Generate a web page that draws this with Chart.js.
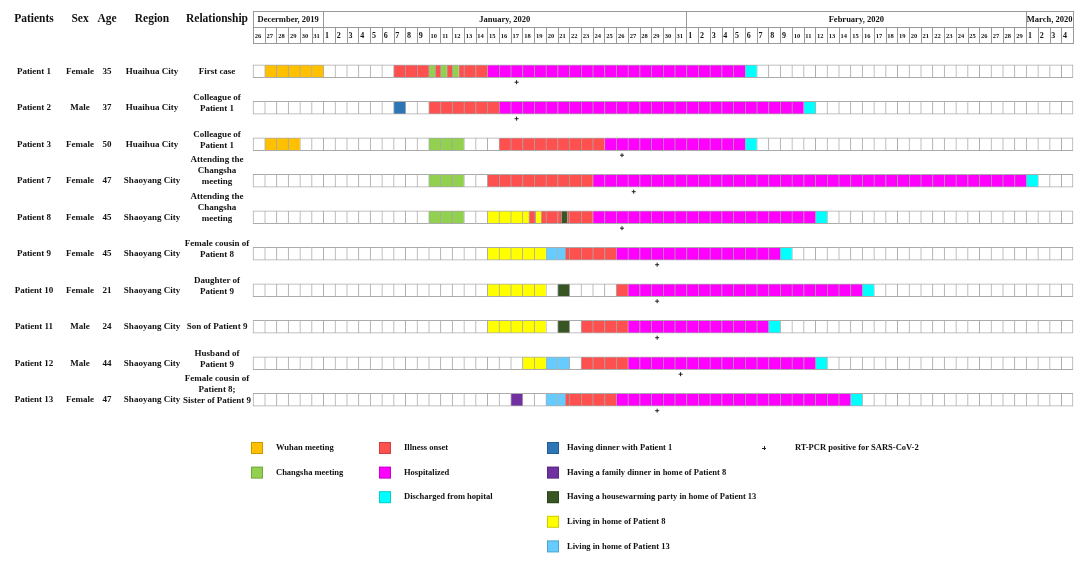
<!DOCTYPE html>
<html>
<head>
<meta charset="utf-8">
<title>Patient timeline</title>
<script src="https://cdn.jsdelivr.net/npm/chart.js@4.4.1/dist/chart.umd.min.js"></script>
<style>
    html, body { margin: 0; padding: 0; background: #ffffff; }
    #wrap { position: relative; width: 1084px; height: 562px; }
</style>
</head>
<body>
<div id="wrap"><canvas id="timelineChart"></canvas></div>
<script>
// ---- data ----
// day index on the x axis: 0 = 26 Dec 2019, 6 = 1 Jan, 37 = 1 Feb, 66 = 1 Mar 2020
const dayLabels = [
    '26', '27', '28', '29', '30', '31',
    '1', '2', '3', '4', '5', '6', '7', '8', '9', '10', '11', '12', '13', '14', '15', '16',
    '17', '18', '19', '20', '21', '22', '23', '24', '25', '26', '27', '28', '29', '30', '31',
    '1', '2', '3', '4', '5', '6', '7', '8', '9', '10', '11', '12', '13', '14', '15', '16',
    '17', '18', '19', '20', '21', '22', '23', '24', '25', '26', '27', '28', '29',
    '1', '2', '3', '4'
];
const monthNames = ['Decermber, 2019', 'January, 2020', 'February, 2020', 'March, 2020'];
const monthDayCounts = [6, 31, 29, 4];

const patientNames = ['Patient 1', 'Patient 2', 'Patient 3', 'Patient 7', 'Patient 8',
    'Patient 9', 'Patient 10', 'Patient 11', 'Patient 12', 'Patient 13'];
const patientSex = ['Female', 'Male', 'Female', 'Female', 'Female',
    'Female', 'Female', 'Male', 'Male', 'Female'];
const patientAge = [35, 37, 50, 47, 45, 45, 21, 24, 44, 47];
const patientRegion = ['Huaihua City', 'Huaihua City', 'Huaihua City', 'Shaoyang City', 'Shaoyang City',
    'Shaoyang City', 'Shaoyang City', 'Shaoyang City', 'Shaoyang City', 'Shaoyang City'];
const patientRelationship = [
    ['First case'],
    ['Colleague of', 'Patient 1'],
    ['Colleague of', 'Patient 1'],
    ['Attending the', 'Changsha', 'meeting'],
    ['Attending the', 'Changsha', 'meeting'],
    ['Female cousin of', 'Patient 8'],
    ['Daughter of', 'Patient 9'],
    ['Son of Patient 9'],
    ['Husband of', 'Patient 9'],
    ['Female cousin of', 'Patient 8;', 'Sister of Patient 9']
];

// [status, from day, to day) on the day index
const spansPatient1 = [
    ['wuhan', 1, 6], ['onset', 12, 15],
    ['changsha', 15, 15.55], ['onset', 15.55, 16],
    ['changsha', 16, 16.55], ['onset', 16.55, 17],
    ['changsha', 17, 17.55], ['onset', 17.55, 20],
    ['hospital', 20, 42], ['discharged', 42, 43]
];
const spansPatient2 = [['dinnerP1', 12, 13], ['onset', 15, 21], ['hospital', 21, 47], ['discharged', 47, 48]];
const spansPatient3 = [['wuhan', 1, 4], ['changsha', 15, 18], ['onset', 21, 30], ['hospital', 30, 42], ['discharged', 42, 43]];
const spansPatient7 = [['changsha', 15, 18], ['onset', 20, 29], ['hospital', 29, 66], ['discharged', 66, 67]];
const spansPatient8 = [
    ['changsha', 15, 18], ['livingP8', 20, 23.55], ['onset', 23.55, 24.1], ['livingP8', 24.1, 24.6],
    ['onset', 24.6, 26.3], ['housewarming', 26.3, 26.8], ['onset', 26.8, 29],
    ['hospital', 29, 48], ['discharged', 48, 49]
];
const spansPatient9 = [['livingP8', 20, 25], ['livingP13', 25, 26.65], ['onset', 26.65, 31], ['hospital', 31, 45], ['discharged', 45, 46]];
const spansPatient10 = [['livingP8', 20, 25], ['housewarming', 26, 27], ['onset', 31, 32], ['hospital', 32, 52], ['discharged', 52, 53]];
const spansPatient11 = [['livingP8', 20, 25], ['housewarming', 26, 27], ['onset', 28, 32], ['hospital', 32, 44], ['discharged', 44, 45]];
const spansPatient12 = [['livingP8', 23, 25], ['livingP13', 25, 27], ['onset', 28, 32], ['hospital', 32, 48], ['discharged', 48, 49]];
const spansPatient13 = [['familyDinner', 22, 23], ['livingP13', 25, 26.65], ['onset', 26.65, 31], ['hospital', 31, 51], ['discharged', 51, 52]];
const patientSpans = [spansPatient1, spansPatient2, spansPatient3, spansPatient7, spansPatient8,
    spansPatient9, spansPatient10, spansPatient11, spansPatient12, spansPatient13];

// day of the RT-PCR positive result, per patient
const pcrPositiveDay = [22, 22, 31, 32, 31, 34, 34, 34, 36, 34];

const statusKeys = ['wuhan', 'changsha', 'onset', 'hospital', 'discharged',
    'dinnerP1', 'familyDinner', 'housewarming', 'livingP8', 'livingP13'];
const statusLabels = ['Wuhan meeting', 'Changsha meeting', 'Illness onset', 'Hospitalized',
    'Discharged from hopital', 'Having dinner with Patient 1', 'Having a family dinner in home of Patient 8',
    'Having a housewarming party in home of Patient 13', 'Living in home of Patient 8', 'Living in home of Patient 13'];
const pcrLabel = 'RT-PCR positive for SARS-CoV-2';

// ---- styles and layout ----
const statusColors = {
    wuhan: '#ffc000', changsha: '#92d050', onset: '#ff5050', hospital: '#ff00ff', discharged: '#00ffff',
    dinnerP1: '#2e75b6', familyDinner: '#7030a0', housewarming: '#375623', livingP8: '#ffff00', livingP13: '#66ccff'
};
const legendColumns = [
    ['wuhan', 'changsha'],
    ['onset', 'hospital', 'discharged'],
    ['dinnerP1', 'familyDinner', 'housewarming', 'livingP8', 'livingP13']
];
const legendLayout = { squareX: [251, 379, 547], textX: [276, 404, 567], pcrX: 764, pcrTextX: 795, top: 448, gap: 24.6, size: 12 };
const columnX = { patients: 34, sex: 80, age: 107, region: 152, relationship: 217 };
const headerY = { columns: 19, monthTop: 11, dayTop: 27, dayBottom: 43 };
const pcrMarkOffset = 0.3;
const serif = '"Liberation Serif", "Times New Roman", serif';
const cellBorder = 'rgba(0, 0, 0, 0.33)';

// split a span into pieces that never cross a day boundary, so each day keeps its own frame
function splitIntoCells(from, to) {
    const cells = [];
    let a = from;
    while (a < to - 1e-9) {
        const b = Math.min(to, Math.floor(a + 1e-9) + 1);
        cells.push([a, b]);
        a = b;
    }
    return cells;
}

function cellBorderWidth(context) {
    const raw = context.raw;
    const right = raw && raw.x[1] >= dayLabels.length ? 1 : 0;
    return { left: 1, top: 1, bottom: 1, right: right };
}

const barDefaults = {
    type: 'bar',
    grouped: false,
    barThickness: 13,
    maxBarThickness: 13,
    borderSkipped: false,
    borderWidth: cellBorderWidth,
    borderColor: cellBorder,
    clip: false
};

const datasets = [];

datasets.push({
    type: 'scatter',
    label: pcrLabel,
    data: pcrPositiveDay.map((d, i) => ({ x: d + 0.5, y: i + pcrMarkOffset })),
    pointStyle: 'cross',
    radius: 2,
    borderColor: '#222222',
    borderWidth: 1,
    order: 0
});

statusKeys.forEach((key, k) => {
    const data = [];
    patientSpans.forEach((spans, p) => {
        spans.filter(s => s[0] === key).forEach(s => {
            splitIntoCells(s[1], s[2]).forEach(cell => data.push({ x: cell, y: p }));
        });
    });
    datasets.push(Object.assign({}, barDefaults, {
        label: statusLabels[k],
        data: data,
        backgroundColor: statusColors[key],
        order: 1
    }));
});

// empty frames for days with nothing recorded
const emptyCells = [];
patientSpans.forEach((spans, p) => {
    dayLabels.forEach((lbl, d) => {
        const covered = spans.some(s => s[1] < d + 1 && s[2] > d);
        if (!covered) emptyCells.push({ x: [d, d + 1], y: p });
    });
});
datasets.push(Object.assign({}, barDefaults, {
    label: 'No event',
    data: emptyCells,
    backgroundColor: '#ffffff',
    order: 2
}));

const sheetPlugin = {
    id: 'sheet',
    afterDraw(chart) {
        const { ctx, scales: { x, y } } = chart;
        const px = v => Math.round(x.getPixelForValue(v)) + 0.5;
        ctx.save();
        ctx.fillStyle = '#111111';
        ctx.textBaseline = 'middle';

        // column headers
        ctx.textAlign = 'center';
        ctx.font = 'bold 11.5px ' + serif;
        ctx.fillText('Patients', columnX.patients, headerY.columns);
        ctx.fillText('Sex', columnX.sex, headerY.columns);
        ctx.fillText('Age', columnX.age, headerY.columns);
        ctx.fillText('Region', columnX.region, headerY.columns);
        ctx.fillText('Relationship', columnX.relationship, headerY.columns);

        // patient rows
        ctx.font = 'bold 9px ' + serif;
        patientNames.forEach((name, i) => {
            const cy = y.getPixelForValue(i);
            ctx.fillText(name, columnX.patients, cy);
            ctx.fillText(patientSex[i], columnX.sex, cy);
            ctx.fillText(String(patientAge[i]), columnX.age, cy);
            ctx.fillText(patientRegion[i], columnX.region, cy);
            const lines = patientRelationship[i];
            lines.forEach((line, k) => {
                const offset = lines.length > 1 ? 1 - (lines.length - 1 - k) * 11 : 0;
                ctx.fillText(line, columnX.relationship, cy + offset);
            });
        });

        // month and day header
        ctx.strokeStyle = '#999999';
        ctx.lineWidth = 1;
        let start = 0;
        monthNames.forEach((name, m) => {
            const end = start + monthDayCounts[m];
            ctx.strokeRect(px(start), headerY.monthTop + 0.5, px(end) - px(start), headerY.dayTop - headerY.monthTop);
            ctx.font = 'bold 8.5px ' + serif;
            ctx.textAlign = 'center';
            ctx.fillText(name, (x.getPixelForValue(start) + x.getPixelForValue(end)) / 2, (headerY.monthTop + headerY.dayTop) / 2 + 1);
            start = end;
        });
        ctx.textAlign = 'left';
        dayLabels.forEach((lbl, d) => {
            ctx.strokeRect(px(d), headerY.dayTop + 0.5, px(d + 1) - px(d), headerY.dayBottom - headerY.dayTop);
            ctx.font = 'bold ' + (lbl.length > 1 ? 6.5 : 8) + 'px ' + serif;
            ctx.fillText(lbl, x.getPixelForValue(d) + 1.8, (headerY.dayTop + headerY.dayBottom) / 2 + 1);
        });

        // legend
        ctx.font = 'bold 8.5px ' + serif;
        legendColumns.forEach((keys, c) => {
            keys.forEach((key, r) => {
                const cy = legendLayout.top + r * legendLayout.gap;
                const s = legendLayout.size;
                ctx.fillStyle = statusColors[key];
                ctx.fillRect(legendLayout.squareX[c], cy - s / 2, s, s);
                ctx.strokeStyle = 'rgba(0, 0, 0, 0.2)';
                ctx.strokeRect(legendLayout.squareX[c] + 0.5, cy - s / 2 + 0.5, s - 1, s - 1);
                ctx.fillStyle = '#111111';
                ctx.fillText(statusLabels[statusKeys.indexOf(key)], legendLayout.textX[c], cy);
            });
        });
        ctx.strokeStyle = '#222222';
        ctx.beginPath();
        ctx.moveTo(legendLayout.pcrX - 2, legendLayout.top + 0.5);
        ctx.lineTo(legendLayout.pcrX + 2, legendLayout.top + 0.5);
        ctx.moveTo(legendLayout.pcrX + 0.5, legendLayout.top - 2);
        ctx.lineTo(legendLayout.pcrX + 0.5, legendLayout.top + 2);
        ctx.stroke();
        ctx.fillText(pcrLabel, legendLayout.pcrTextX, legendLayout.top);

        ctx.restore();
    }
};

window.timelineChart = new Chart(document.getElementById('timelineChart'), {
    type: 'bar',
    data: { datasets: datasets },
    options: {
        indexAxis: 'y',
        responsive: true,
        maintainAspectRatio: false,
        animation: false,
        events: [],
        layout: { padding: { left: 253, right: 11, top: 53, bottom: 144 } },
        scales: {
            x: { type: 'linear', min: 0, max: dayLabels.length, offset: false, display: false },
            y: { type: 'linear', min: -0.5, max: patientNames.length - 0.5, offset: false, reverse: true, display: false }
        },
        plugins: {
            legend: { display: false },
            tooltip: { enabled: false }
        }
    },
    plugins: [sheetPlugin]
});
</script>
</body>
</html>
